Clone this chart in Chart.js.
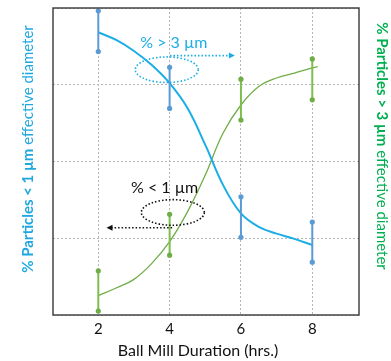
<!DOCTYPE html>
<html>
<head>
<meta charset="utf-8">
<script src="https://cdn.jsdelivr.net/npm/chart.js@4.4.1/dist/chart.umd.min.js"></script>
<style>
  html, body { margin: 0; padding: 0; background: #fff; }
  #wrap { width: 391px; height: 361px; }
</style>
</head>
<body>
<div id="wrap"><canvas id="millChart"></canvas></div>
<script>
// ball mill duration ticks (hrs.)
const hourTicks = [2, 4, 6, 8];

// % < 1 um fit curve (blue)
const fineHours = [2, 2.5, 3, 3.5, 4, 4.5, 5, 5.5, 6, 6.5, 7, 7.5, 8];
const fineFit = [92.1, 89.6, 86.0, 81.4, 75.5, 67.4, 55.4, 42.3, 33.1, 28.7, 26.5, 24.8, 22.8];
const fineUpper = [99.1, 80.7, 38.5, 30.3];
const fineLower = [85.8, 67.3, 25.3, 17.2];

// % > 3 um fit curve (green)
const coarseHours = [2, 2.5, 3, 3.5, 4, 4.5, 5, 5.5, 6, 6.5, 7, 7.5, 8, 8.15];
const coarseFit = [6.3, 8.8, 11.6, 16.8, 23.9, 33.6, 45.6, 59.3, 68.4, 74.4, 77.2, 78.8, 80.5, 80.9];
const coarseUpper = [14.4, 32.8, 76.8, 83.4];
const coarseLower = [1.3, 19.5, 63.5, 70.1];

const blue = "#1BAEE6";
const blueBar = "#5B9BD5";
const green = "#70AD47";
const greenBar = "#7DBE4F";
const titleGreen = "#00B050";
const fontName = "Lato, 'Open Sans', sans-serif";

function toPoints(xs, ys) {
  return xs.map((x, i) => ({ x: x, y: ys[i] }));
}

function errorBars(upper, lower) {
  const pts = [];
  hourTicks.forEach((h, i) => {
    pts.push({ x: h, y: upper[i] });
    pts.push({ x: h, y: lower[i] });
    pts.push({ x: h, y: null });
  });
  return pts;
}

// annotation callouts, positioned in data units
const callouts = [
  { text: "% > 3 \u00b5m", color: blue, tx: 4.12, ty: 88.8, ex: 3.92, ey: 79.9, ax0: 4.01, ax1: 5.83, ay: 84.5, axis: "y2" },
  { text: "% < 1 \u00b5m", color: "#111", tx: 3.86, ty: 41.4, ex: 4.09, ey: 33.4, ax0: 4.07, ax1: 2.23, ay: 28.4, axis: "y" },
];

const decorPlugin = {
  id: "decor",
  afterDatasetsDraw(chart) {
    const ctx = chart.ctx;
    const area = chart.chartArea;
    const xs = chart.scales.x;

    ctx.save();
    // frame
    ctx.strokeStyle = "#444";
    ctx.lineWidth = 1.5;
    ctx.strokeRect(area.left, area.top, area.right - area.left, area.bottom - area.top);

    // callouts
    callouts.forEach((c) => {
      const ys = chart.scales[c.axis];
      ctx.fillStyle = c.color;
      ctx.strokeStyle = c.color;
      ctx.font = "16px " + fontName;
      ctx.textAlign = "center";
      ctx.textBaseline = "middle";
      ctx.fillText(c.text, xs.getPixelForValue(c.tx), ys.getPixelForValue(c.ty));

      ctx.lineWidth = 1.6;
      ctx.setLineDash([1.5, 2]);
      ctx.beginPath();
      ctx.ellipse(xs.getPixelForValue(c.ex), ys.getPixelForValue(c.ey), 31.5, 12.8, 0, 0, Math.PI * 2);
      ctx.stroke();

      const x0 = xs.getPixelForValue(c.ax0);
      const x1 = xs.getPixelForValue(c.ax1);
      const y = ys.getPixelForValue(c.ay);
      const dir = x1 > x0 ? 1 : -1;
      ctx.beginPath();
      ctx.moveTo(x0, y);
      ctx.lineTo(x1 - dir * 4, y);
      ctx.stroke();
      ctx.setLineDash([]);
      ctx.beginPath();
      ctx.moveTo(x1, y);
      ctx.lineTo(x1 - dir * 6, y - 3);
      ctx.lineTo(x1 - dir * 6, y + 3);
      ctx.closePath();
      ctx.fill();
    });

    // x axis title
    ctx.fillStyle = "#111";
    ctx.font = "16px " + fontName;
    ctx.textAlign = "center";
    ctx.textBaseline = "middle";
    ctx.fillText("Ball Mill Duration (hrs.)", 198, 351);

    // y axis titles with bold lead-in
    const drawTitle = (bold, normal, cx, cy, rot, color) => {
      ctx.save();
      ctx.translate(cx, cy);
      ctx.rotate(rot);
      ctx.fillStyle = color;
      ctx.textBaseline = "middle";
      ctx.textAlign = "left";
      const boldFont = "bold 15px " + fontName;
      const normFont = "15px " + fontName;
      ctx.font = boldFont;
      const wb = ctx.measureText(bold).width;
      ctx.font = normFont;
      const wn = ctx.measureText(normal).width;
      let start = -(wb + wn) / 2;
      ctx.font = boldFont;
      ctx.fillText(bold, start, 0);
      ctx.font = normFont;
      ctx.fillText(normal, start + wb, 0);
      ctx.restore();
    };
    drawTitle("% Particles < 1 \u00b5m", " effective diameter", 28, 149, -Math.PI / 2, "#1FA8E0");
    drawTitle("% Particles > 3 \u00b5m", " effective diameter", 382, 146, Math.PI / 2, titleGreen);
    ctx.restore();
  },
};

const ctx = document.getElementById("millChart").getContext("2d");
const millChart = new Chart(ctx, {
  type: "line",
  data: {
    datasets: [
      {
        label: "% < 1 um error",
        data: errorBars(fineUpper, fineLower),
        borderColor: blueBar,
        backgroundColor: blueBar,
        borderWidth: 2,
        pointRadius: 2.6,
        pointBorderWidth: 0,
        spanGaps: false,
        yAxisID: "y",
      },
      {
        label: "% > 3 um error",
        data: errorBars(coarseUpper, coarseLower),
        borderColor: greenBar,
        backgroundColor: green,
        borderWidth: 2,
        pointRadius: 2.6,
        pointBorderWidth: 0,
        spanGaps: false,
        yAxisID: "y2",
      },
      {
        label: "% < 1 um",
        data: toPoints(fineHours, fineFit),
        borderColor: blue,
        borderWidth: 2,
        pointRadius: 0,
        tension: 0.4,
        yAxisID: "y",
      },
      {
        label: "% > 3 um",
        data: toPoints(coarseHours, coarseFit),
        borderColor: green,
        borderWidth: 1.3,
        pointRadius: 0,
        tension: 0.4,
        yAxisID: "y2",
      },
    ],
  },
  options: {
    responsive: true,
    maintainAspectRatio: false,
    animation: false,
    layout: {
      padding: { left: 53, right: 32, top: 8, bottom: 18 },
    },
    scales: {
      x: {
        type: "linear",
        min: 0.73,
        max: 9.31,
        afterBuildTicks: (scale) => {
          scale.ticks = hourTicks.map((v) => ({ value: v }));
        },
        grid: {
          color: "#b5b5b5",
          lineWidth: 1,
          drawTicks: false,
        },
        border: { display: false, dash: [2, 2] },
        ticks: {
          color: "#111",
          padding: 5,
          font: { family: fontName, size: 15 },
        },
      },
      y: {
        min: 0,
        max: 100,
        ticks: { display: false, stepSize: 25 },
        grid: {
          color: "#b5b5b5",
          lineWidth: 1,
          drawTicks: false,
        },
        border: { display: false, dash: [2, 2] },
      },
      y2: {
        display: false,
        min: 0,
        max: 100,
      },
    },
    plugins: {
      legend: { display: false },
      tooltip: { enabled: false },
    },
  },
  plugins: [decorPlugin],
});
</script>
</body>
</html>
